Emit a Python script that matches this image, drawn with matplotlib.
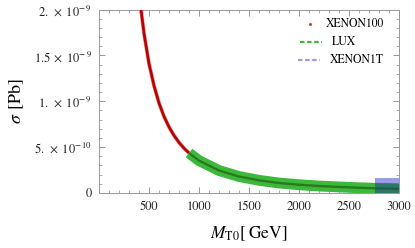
import matplotlib
matplotlib.use("Agg")
import matplotlib.pyplot as plt
from matplotlib.ticker import FixedLocator, FuncFormatter
from matplotlib.patches import Rectangle
import numpy as np

plt.rcParams['font.family'] = ['STIXGeneral', 'DejaVu Serif']
plt.rcParams['mathtext.fontset'] = 'stix'

# XENON100 (red points)
m_xenon100 = [420, 450, 500, 550, 600, 650, 700, 750, 800, 850, 900]
s_xenon100 = [2.0e-9, 1.74e-9, 1.41e-9, 1.17e-9, 0.98e-9, 0.835e-9, 0.72e-9,
              0.627e-9, 0.551e-9, 0.488e-9, 0.436e-9]
# LUX (green band)
m_lux = [900, 1000, 1200, 1400, 1600, 1800, 2000, 2200, 2400, 2600, 2800, 3000]
s_lux = [0.436e-9, 0.353e-9, 0.245e-9, 0.18e-9, 0.138e-9, 0.109e-9, 0.09e-9,
         0.076e-9, 0.066e-9, 0.057e-9, 0.05e-9, 0.045e-9]
# XENON1T region
m_x1t = [2760, 3000]
s_x1t_top = 0.16e-9

x_major = [0, 500, 1000, 1500, 2000, 2500, 3000]
y_major = [0, 0.5e-9, 1.0e-9, 1.5e-9, 2.0e-9]
legend_labels = ['XENON100', 'LUX', 'XENON1T']

fig = plt.figure(figsize=(4.15, 2.48), dpi=100)
AX_L, AX_R, AX_T, AX_B = 99, 399, 9.5, 193
ax = fig.add_axes([AX_L / 415, (248 - AX_B) / 248, (AX_R - AX_L) / 415, (AX_B - AX_T) / 248])

ax.set_xlim(0, 3000)
ax.set_ylim(0, 2e-9)

# XENON100
ax.plot(m_xenon100, s_xenon100, color='#e89090', lw=2.8, solid_capstyle='butt', zorder=3)
ax.plot(m_xenon100, s_xenon100, color='#b30000', lw=1.9, solid_capstyle='butt', zorder=3)

# XENON1T box
rect = Rectangle((m_x1t[0], 0), m_x1t[1] - m_x1t[0], s_x1t_top,
                 facecolor='#9c9ce2', edgecolor='none', zorder=2)
ax.add_patch(rect)

# LUX band
ax.plot(m_lux, s_lux, color='#3cb93c', lw=7.8, solid_capstyle='butt', zorder=4)
ax.plot(m_lux, s_lux, color='#2a7a1c', lw=1.7, solid_capstyle='butt', zorder=5)

# overlap (dark teal) clipped to XENON1T box
clip = Rectangle((m_x1t[0], 0), m_x1t[1] - m_x1t[0], s_x1t_top, transform=ax.transData)
l1, = ax.plot(m_lux, s_lux, color='#2b7868', lw=7.8, solid_capstyle='butt', zorder=6)
l1.set_clip_path(clip)
l2, = ax.plot(m_lux, s_lux, color='#1f5e50', lw=1.7, solid_capstyle='butt', zorder=7)
l2.set_clip_path(clip)

# ticks
ax.xaxis.set_major_locator(FixedLocator(x_major))
ax.xaxis.set_minor_locator(FixedLocator(np.arange(0, 3001, 100)))
ax.yaxis.set_major_locator(FixedLocator(y_major))
ax.yaxis.set_minor_locator(FixedLocator(np.arange(0, 21) * 0.1e-9))

def xfmt(v, pos):
    if abs(v) < 1e-6:
        return ''
    return '%d' % v

def yfmt(v, pos):
    if abs(v) < 1e-20:
        return '0'
    e = int(np.floor(np.log10(abs(v)) + 1e-9))
    mant = v / 10**e
    if abs(mant - round(mant)) < 1e-6:
        ms = '%d.' % round(mant)
    else:
        ms = ('%g' % mant)
    return r'$%s\;\times\;10^{-\,%d}$' % (ms, -e)

ax.xaxis.set_major_formatter(FuncFormatter(xfmt))
ax.yaxis.set_major_formatter(FuncFormatter(yfmt))
ax.tick_params(which='both', direction='in', top=True, right=True,
               color='#888888', labelsize=9, labelcolor='#222222')
ax.tick_params(which='major', length=4, width=0.6)
ax.tick_params(which='minor', length=2, width=0.5)
ax.tick_params(axis='x', pad=6)
ax.tick_params(axis='y', pad=5)
for sp in ax.spines.values():
    sp.set_color('#999999')
    sp.set_linewidth(0.7)

ax.set_xlabel(r'$M_{\mathrm{T0}}[\;\mathrm{GeV}]$', fontsize=12.5, labelpad=8)
ax.set_ylabel(r'$\sigma\;\,[\mathrm{Pb}]$', fontsize=13, labelpad=6)

# legend
tr = ax.transAxes
def ax_xy(px, py):
    return ((px - AX_L) / (AX_R - AX_L), (AX_B - py) / (AX_B - AX_T))

x0, y0 = ax_xy(310, 24)
ax.plot([x0], [y0], marker='o', ms=1.2, color='#d04040', transform=tr, clip_on=False, zorder=8)
tx, ty = ax_xy(326, 24)
ax.text(tx, ty, legend_labels[0], transform=tr, fontsize=8.5, va='center', ha='left')

xa, ya = ax_xy(300, 42)
xb, _ = ax_xy(322, 42)
ax.plot([xa, xb], [ya, ya], color='#33bb33', lw=1.6, ls=(0, (2, 1.2)), transform=tr, zorder=8)
tx, ty = ax_xy(332, 42)
ax.text(tx, ty, legend_labels[1], transform=tr, fontsize=8.5, va='center', ha='left')

xa, ya = ax_xy(298, 60)
xb, _ = ax_xy(320, 60)
ax.plot([xa, xb], [ya, ya], color='#9c9ce2', lw=1.6, ls=(0, (2, 1.2)), transform=tr, zorder=8)
tx, ty = ax_xy(330, 60)
ax.text(tx, ty, legend_labels[2], transform=tr, fontsize=8.5, va='center', ha='left')

fig.savefig('out.png', dpi=100)
